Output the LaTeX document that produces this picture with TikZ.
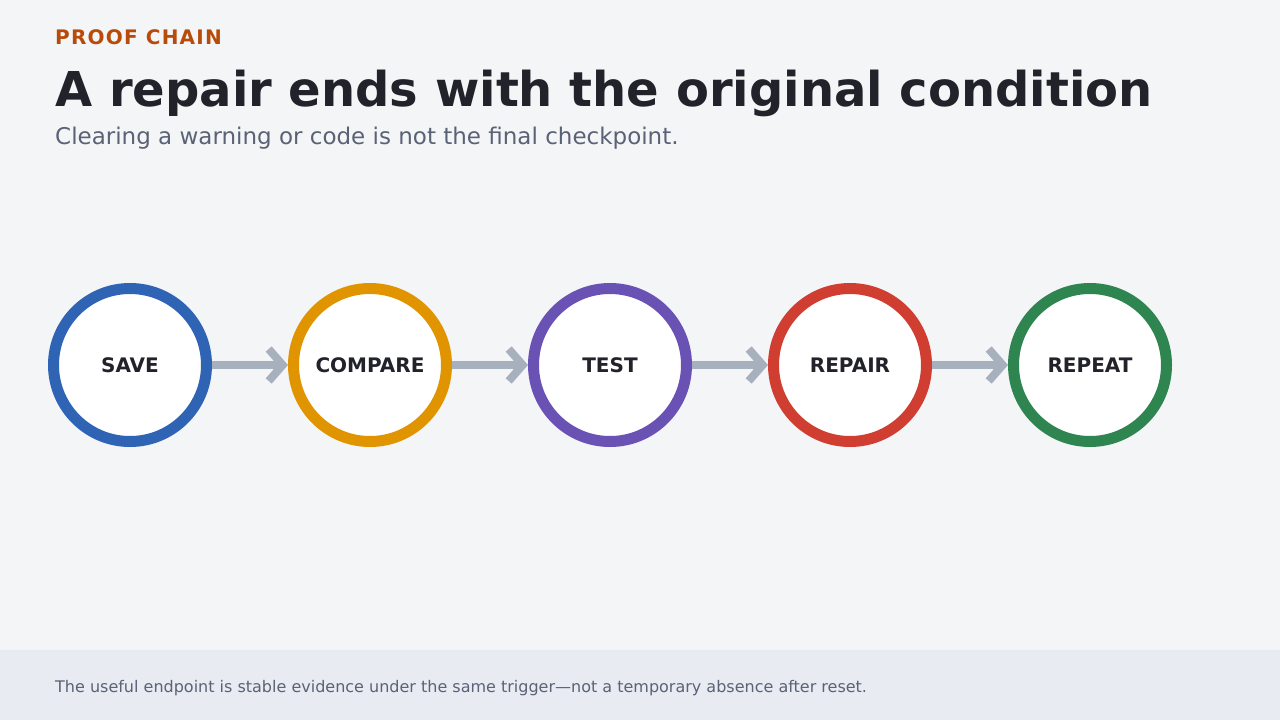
\documentclass[tikz,border=0pt]{standalone}
\usepackage{fontspec}
\setmainfont{DejaVu Sans}
\usetikzlibrary{arrows.meta}

\definecolor{pagebg}{HTML}{F4F5F7}
\definecolor{footbg}{HTML}{E8EBF2}
\definecolor{kicker}{HTML}{B84A0A}
\definecolor{ink}{HTML}{21222A}
\definecolor{subink}{HTML}{5A6275}
\definecolor{arrowgray}{HTML}{A7B0BD}
\definecolor{saveblue}{HTML}{2F64B5}
\definecolor{compareorange}{HTML}{E09400}
\definecolor{testpurple}{HTML}{6A52B5}
\definecolor{repairred}{HTML}{D03E32}
\definecolor{repeatgreen}{HTML}{2E8550}

\tikzset{
  stage/.style={draw,circle,fill=white,line width=11pt,minimum size=153pt,inner sep=0pt,
    text=ink,font=\fontsize{20pt}{22pt}\selectfont\bfseries},
  link/.style={draw=arrowgray,line width=8pt,-{Straight Barb[length=14pt,width=32pt]}}
}

\begin{document}
\begin{tikzpicture}[x=1pt,y=-1pt]
\fill[pagebg] (0,0) rectangle (1280,720);
\fill[footbg] (0,650) rectangle (1280,720);
\useasboundingbox (0,0) rectangle (1280,720);

%%% HEADER %%%
\node [anchor=base west,inner sep=0pt,text=kicker] at (55,44) (kicker)
  {\fontsize{20pt}{24pt}\selectfont\bfseries\addfontfeature{LetterSpace=6}PROOF CHAIN};
\node [anchor=base west,inner sep=0pt,text=ink] at (55,106) (title)
  {\fontsize{48pt}{56pt}\selectfont\bfseries A repair ends with the original condition};
\node [anchor=base west,inner sep=0pt,text=subink] at (55,144) (subtitle)
  {\fontsize{23pt}{27pt}\selectfont Clearing a warning or code is not the final checkpoint.};

%%% CHAIN %%%
\node [stage,draw=saveblue] at (130,365) (save) {\raisebox{-2pt}{SAVE}};
\node [stage,draw=compareorange] at (370,365) (compare) {\raisebox{-2pt}{COMPARE}};
\node [stage,draw=testpurple] at (610,365) (test) {\raisebox{-2pt}{TEST}};
\node [stage,draw=repairred] at (850,365) (repair) {\raisebox{-2pt}{REPAIR}};
\node [stage,draw=repeatgreen] at (1090,365) (repeat) {\raisebox{-2pt}{REPEAT}};

\draw [link] (save) -- (compare);
\draw [link] (compare) -- (test);
\draw [link] (test) -- (repair);
\draw [link] (repair) -- (repeat);

%%% FOOTER %%%
\node [anchor=base west,inner sep=0pt,text=subink] at (55,692) (footnote)
  {\fontsize{16pt}{19pt}\selectfont The useful endpoint is stable evidence under the same trigger---not a temporary absence after reset.};
\end{tikzpicture}
\end{document}
